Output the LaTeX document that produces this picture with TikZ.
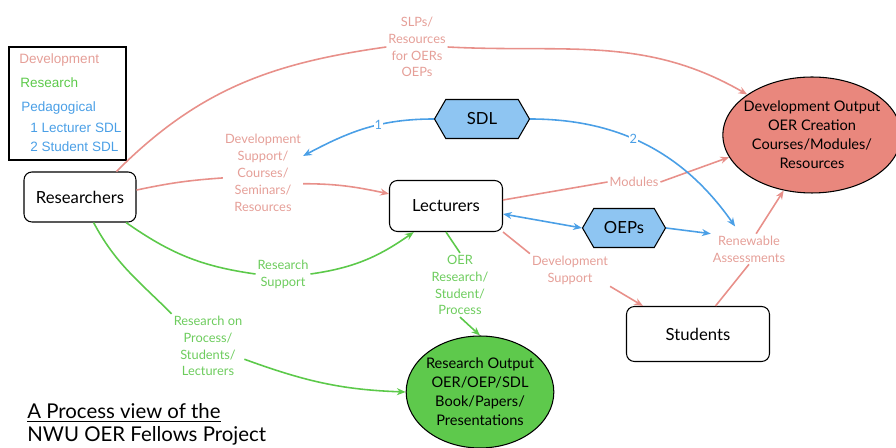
\documentclass[tikz,border=0pt]{standalone}
\usepackage{fontspec}
\setmainfont{Lato}
\newfontfamily\legfont{Liberation Sans}
\usetikzlibrary{arrows.meta,positioning,shapes.geometric,shapes.symbols}
\definecolor{devcol}{HTML}{E8908A}
\definecolor{devtxt}{HTML}{E59F98}
\definecolor{rescol}{HTML}{5CC94A}
\definecolor{restxt}{HTML}{6DCC5D}
\definecolor{pedcol}{HTML}{4A9FE6}
\definecolor{hexfill}{HTML}{8EC5F2}
\definecolor{devfill}{HTML}{E9877D}
\definecolor{resfill}{HTML}{5EC94C}
\tikzset{
  actor/.style={draw, rounded corners=4.5pt, line width=0.6pt, fill=white,
    font=\fontsize{9.5}{11}\selectfont},
  hexa/.style={signal, signal to=west and east, signal pointer angle=120,
    draw, line width=0.6pt, fill=hexfill, minimum height=0.78cm,
    font=\fontsize{9.5}{11}\selectfont},
  output/.style={ellipse, draw, line width=0.6pt, align=center, inner sep=0pt,
    font=\fontsize{8.3}{10.8}\selectfont},
  lbl/.style={align=center, inner sep=1pt, font=\fontsize{7.3}{9.6}\selectfont},
  devline/.style={draw=devcol, line width=0.9pt},
  resline/.style={draw=rescol, line width=0.9pt},
  pedline/.style={draw=pedcol, line width=0.9pt},
  legtxt/.style={anchor=west, inner sep=0pt, font=\legfont\fontsize{7.7}{9}\selectfont},
}
\begin{document}
\begin{tikzpicture}[x=0.02cm, y=-0.02cm, >={Stealth[length=5pt,width=4pt]}]
    \useasboundingbox (0,0) rectangle (896,448);

    % legend
    \draw[line width=0.6pt] (9,47) rectangle (126,160);
    \node [legtxt, text=devtxt] (lgdev) at (19,60) {Development};
    \node [legtxt, text=rescol] (lgres) at (20,83) {Research};
    \node [legtxt, text=pedcol] (lgped) at (21,108) {Pedagogical};
    \node [legtxt, text=pedcol] (lgone) at (30,128) {1 Lecturer SDL};
    \node [legtxt, text=pedcol] (lgtwo) at (30,147) {2 Student SDL};

    % actors
    \node [actor, minimum width=2.24cm, minimum height=1cm] (res) at (80,197) {Researchers};
    \node [actor, minimum width=2.26cm, minimum height=1.02cm] (lec) at (446,206) {Lecturers};
    \node [actor, minimum width=2.86cm, minimum height=1.1cm] (stu) at (698,334) {Students};
    \node [hexa, minimum width=1.9cm] (sdl) at (482,119) {SDL};
    \node [hexa, minimum width=1.66cm] (oeps) at (624,228) {OEPs};

    % outputs
    \node [output, fill=devfill, inner xsep=-3pt, minimum width=3.36cm, minimum height=2.32cm] (devo) at (812,135)
        {Development Output\\OER Creation\\Courses/Modules/\\Resources};
    \node [output, fill=resfill, inner xsep=-1pt, minimum width=2.92cm, minimum height=2.24cm] (reso) at (480,392)
        {Research Output\\OER/OEP/SDL\\Book/Papers/\\Presentations};

    % edge labels
    \node [lbl, text=devtxt] (slp) at (417,47) {SLPs/\\Resources\\for OERs\\OEPs};
    \node [lbl, text=devtxt] (dsup) at (263,173) {Development\\Support/\\Courses/\\Seminars/\\Resources};
    \node [lbl, text=devtxt] (mod) at (634,182) {Modules};
    \node [lbl, text=devtxt] (ren) at (749,249) {Renewable\\Assessments};
    \node [lbl, text=devtxt] (dsup2) at (570,270) {Development\\Support};
    \node [lbl, text=restxt] (rsup) at (283,274) {Research\\Support};
    \node [lbl, text=restxt] (rproc) at (208,346) {Research on\\Process/\\Students/\\Lecturers};
    \node [lbl, text=restxt] (oer) at (460,285) {OER\\Research/\\Student/\\Process};

    % development
    \draw[devline] (res.35) to[out=45, in=188] (slp.west);
    \draw[devline, ->] (slp.east) to[out=-3, in=150] (devo.148);
    \draw[devline] (res.7) to[bend left=4] (dsup.187);
    \draw[devline, ->] (dsup.-15) to[out=0, in=168] (lec.168);
    \draw[devline] (lec.6) to (mod.west);
    \draw[devline, ->] (mod.east) to (devo.195);
    \draw[devline] (lec.south east) to (dsup2.north west);
    \draw[devline, ->] (dsup2.south east) to (stu.153);
    \draw[devline] (stu.58) to (ren.south);
    \draw[devline, ->] (ren.65) to (devo.243);

    % research
    \draw[resline] (res.-29) to[out=-35, in=172] (rsup.west);
    \draw[resline, ->] (rsup.east) to[out=8, in=215] (lec.219);
    \draw[resline] (res.-62) to[out=-62, in=135] (rproc.north west);
    \draw[resline, ->] (rproc.-20) to[out=-20, in=178] (reso.west);
    \draw[resline] (lec.south) to (oer.north);
    \draw[resline, ->] (oer.south) to (reso.north);

    % pedagogical
    \draw[pedline, ->] (sdl.west) to[out=180, in=28]
        node[pos=0.4, fill=white, inner sep=0.5pt, text=pedcol, font=\fontsize{7.3}{9}\selectfont] {1} (dsup.23);
    \draw[pedline, ->, shorten >=5pt] (sdl.east) to[out=0, in=125]
        node[pos=0.42, fill=white, inner sep=0.5pt, text=pedcol, font=\fontsize{7.3}{9}\selectfont] {2} (ren.120);
    \draw[pedline, <->] (lec.-8) to (oeps.west);
    \draw[pedline, ->] (oeps.east) to (ren.north west);

    % title
    \node [anchor=west, inner sep=0pt, font=\fontsize{11.6}{13}\selectfont] (ttl1) at (27,413) {\underline{A Process view of the}};
    \node [anchor=west, inner sep=0pt, font=\fontsize{11.6}{13}\selectfont] (ttl2) at (27,438) {\underline{NWU OER Fellows Project}};
\end{tikzpicture}
\end{document}
